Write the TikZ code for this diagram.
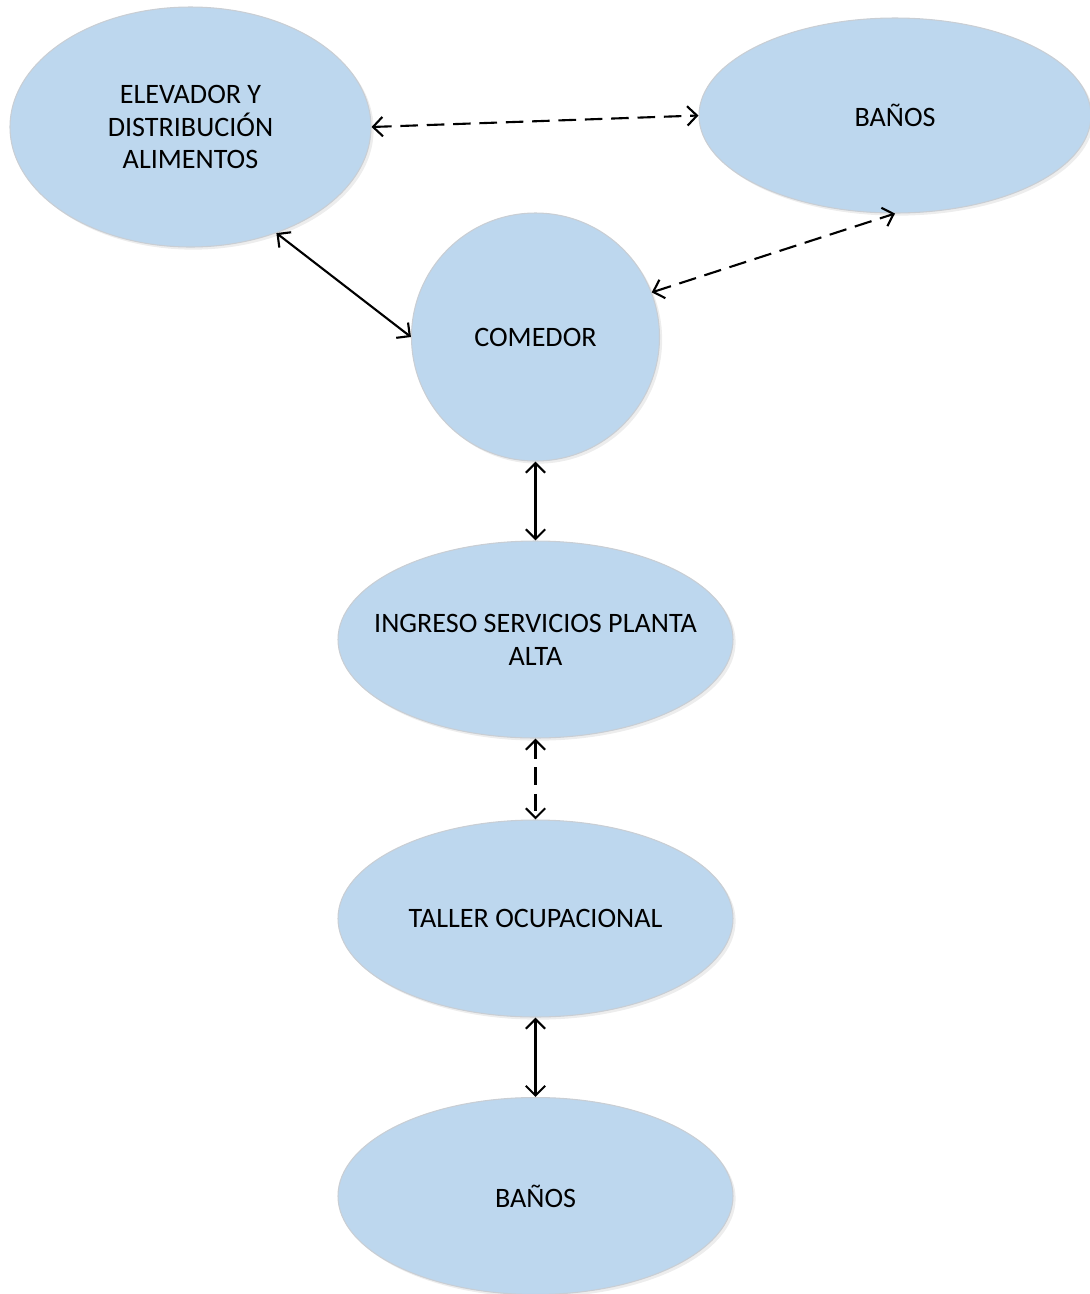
\documentclass[tikz,border=0pt]{standalone}
\usepackage{fontspec}
\setmainfont{Carlito}
\usepackage{tikz}
\usetikzlibrary{arrows.meta,shapes.geometric,shadows}
\definecolor{zoneblue}{HTML}{BDD7EE}
\definecolor{zoneedge}{HTML}{C9CED4}

\begin{document}
\begin{tikzpicture}[
  font=\fontsize{16}{18.7}\selectfont,
  zone/.style={ellipse, draw=zoneedge, line width=0.6pt, fill=zoneblue, align=center, inner sep=0pt,
    drop shadow={shadow xshift=1.5pt, shadow yshift=-1.5pt, fill=black, opacity=0.07}},
  link/.style={{Straight Barb[length=5.5pt,width=11pt]}-{Straight Barb[length=5.5pt,width=11pt]}, line width=1.2pt, draw=black},
  dashlink/.style={link, dash pattern=on 10pt off 5pt}
]
\useasboundingbox (0,0) rectangle (21.8,-25.88);

\node[zone, minimum width=7.22cm, minimum height=4.80cm] (elevador) at (3.81,-2.54) {ELEVADOR Y\\DISTRIBUCIÓN\\ALIMENTOS};
\node[zone, minimum width=7.84cm, minimum height=3.90cm] (banosup) at (17.9,-2.31) {BAÑOS};
\node[zone, minimum width=4.96cm, minimum height=4.96cm] (comedor) at (10.71,-6.74) {COMEDOR};
\node[zone, inner xsep=-0.8cm, minimum width=7.90cm, minimum height=3.94cm] (ingreso) at (10.71,-12.79) {INGRESO SERVICIOS PLANTA\\ALTA};
\node[zone, minimum width=7.90cm, minimum height=3.94cm] (taller) at (10.71,-18.37) {TALLER OCUPACIONAL};
\node[zone, minimum width=7.90cm, minimum height=3.94cm] (banoinf) at (10.71,-23.92) {BAÑOS};

\draw[dashlink] (elevador.east) -- (banosup.west);
\draw[link] (elevador.-51.5) -- (comedor.west);
\draw[dashlink] (comedor.21.6) -- (banosup.south);
\draw[link] (comedor.south) -- (ingreso.north);
\draw[dashlink] (ingreso.south) -- (taller.north);
\draw[link] (taller.south) -- (banoinf.north);
\end{tikzpicture}
\end{document}
